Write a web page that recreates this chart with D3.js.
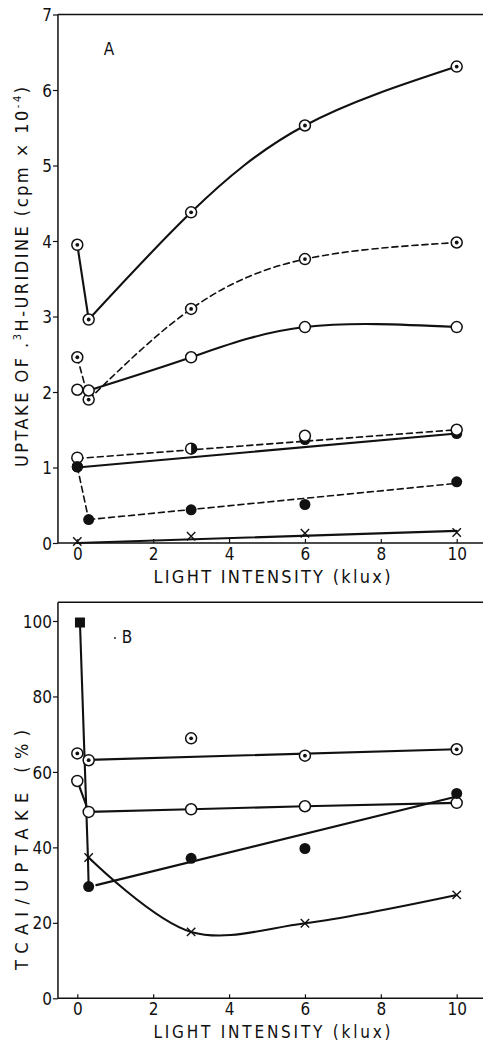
<!DOCTYPE html>
<html><head><meta charset="utf-8">
<script src="https://cdn.jsdelivr.net/npm/d3@7"></script>
<style>
html,body{margin:0;padding:0;background:#fff;}
svg{display:block;}
text{font-family:"Liberation Sans Narrow","DejaVu Sans Condensed","Liberation Sans",Arial,sans-serif;fill:#111;}
</style></head>
<body>
<svg id="chart" width="483" height="1044"></svg>
<script>
// ---------- data ----------
const xTicks = [0, 2, 4, 6, 8, 10];
const yTicksA = [0, 1, 2, 3, 4, 5, 6, 7];
const yTicksB = [0, 20, 40, 60, 80, 100];
const lightX = [0, 0.3, 3, 6, 10];

// Panel A
const a1 = [3.95, 2.96, 4.38, 5.53, 6.31];   // dotted circle, solid
const a2 = [2.46, 1.90, 3.10, 3.76, 3.98];   // dotted circle, dashed
const a3 = [2.03, 2.02, 2.46, 2.86, 2.86];   // open circle, solid
const a4X = [0, 3, 6, 10];
const a4 = [1.13, 1.25, 1.42, 1.50];         // open / half circle, dashed
const a4Fit = [[0, 1.12], [10, 1.50]];
const a5X = [0, 6, 10];
const a5 = [1.01, 1.37, 1.45];               // filled circle, solid
const a5Fit = [[0, 1.00], [10, 1.45]];
const a6 = [1.01, 0.31, 0.44, 0.51, 0.81];   // filled circle, dashed
const a6Fit = [[0.3, 0.31], [10, 0.79]];
const a7X = [0, 3, 6, 10];
const a7 = [0.02, 0.09, 0.13, 0.14];         // cross, solid
const a7Fit = [[0, 0.0], [10, 0.16]];

// Panel B
const b1 = [64.9, 63.1, 68.9, 64.3, 66.0];   // dotted circle
const b1Fit = [[0.3, 63.2], [10, 66.0]];
const b2 = [57.6, 49.4, 50.1, 50.9, 51.8];   // open circle
const b3X = [0.3, 3, 6, 10];
const b3 = [29.6, 37.1, 39.7, 54.3];         // filled circle
const b3Fit = [[0.5, 30.0], [10, 53.5]];
const bSquare = [0.07, 99.6];                // filled square
const bDrop = [[0.07, 99.6], [0.28, 37.3], [0.3, 29.6]];
const b4X = [0.3, 3, 6, 10];
const b4 = [37.3, 17.6, 19.9, 27.4];         // cross

// ---------- drawing ----------
const svg = d3.select("#chart");
const x = d3.scaleLinear().domain([0, 10]).range([77.3, 456.7]);
const yA = d3.scaleLinear().domain([0, 7]).range([543, 14.5]);
const yB = d3.scaleLinear().domain([0, 100]).range([998.3, 621]);
const xLeft = -0.51, xRight = 10.7;

function frame(y, yTop, yTicks, fmt) {
  const g = svg.append("g");
  const ay = d3.axisLeft(y).tickValues(yTicks).tickSize(5).tickPadding(1).tickFormat(fmt);
  const gy = g.append("g").attr("transform", `translate(${x(xLeft)},0)`).call(ay);
  gy.select(".domain").remove();
  gy.selectAll("line").attr("stroke", "#111").attr("stroke-width", 1.2);
  gy.selectAll("text").attr("font-size", 17).attr("dy", "0.36em");
  const ax = d3.axisBottom(x).tickValues(xTicks).tickSize(-4).tickPadding(5);
  const gx = g.append("g").attr("transform", `translate(0,${y(0)})`).call(ax);
  gx.select(".domain").remove();
  gx.selectAll("line").attr("stroke", "#111").attr("stroke-width", 1.2);
  gx.selectAll("text").attr("font-size", 17);
  g.append("line").attr("x1", x(xLeft)).attr("x2", x(xLeft)).attr("y1", y(yTop)).attr("y2", y(0))
    .attr("stroke", "#111").attr("stroke-width", 1.5);
  g.append("line").attr("x1", x(xLeft)).attr("x2", x(xRight)).attr("y1", y(0)).attr("y2", y(0))
    .attr("stroke", "#111").attr("stroke-width", 1.5);
  g.append("line").attr("x1", x(xLeft)).attr("x2", x(xRight)).attr("y1", y(yTop)).attr("y2", y(yTop))
    .attr("stroke", "#111").attr("stroke-width", 1.5);
}
frame(yA, 7, yTicksA, d3.format("d"));
frame(yB, 105, yTicksB, d3.format("d"));

function path(y, pts, curve, dashed) {
  const line = d3.line().x(d => x(d[0])).y(d => y(d[1])).curve(curve || d3.curveLinear);
  svg.append("path").attr("d", line(pts)).attr("fill", "none").attr("stroke", "#111")
    .attr("stroke-width", dashed ? 1.6 : 2.1)
    .attr("stroke-dasharray", dashed ? "6,4" : null)
    .attr("stroke-linejoin", "round").attr("stroke-linecap", "round");
}
const zip = (xs, ys) => xs.map((v, i) => [v, ys[i]]);
const R = 5.5;
function marker(y, type, px, py) {
  const cx = x(px), cy = y(py);
  if (type === "dot" || type === "open" || type === "half") {
    svg.append("circle").attr("cx", cx).attr("cy", cy).attr("r", R)
      .attr("fill", "#fff").attr("stroke", "#111").attr("stroke-width", 1.5);
    if (type === "dot") svg.append("circle").attr("cx", cx).attr("cy", cy).attr("r", 1.9).attr("fill", "#111");
    if (type === "half") svg.append("path")
      .attr("d", d3.arc()({innerRadius: 0, outerRadius: R, startAngle: 0, endAngle: Math.PI}))
      .attr("transform", `translate(${cx},${cy})`).attr("fill", "#111");
  } else if (type === "filled") {
    svg.append("circle").attr("cx", cx).attr("cy", cy).attr("r", R).attr("fill", "#111");
  } else if (type === "cross") {
    const s = 4.2;
    svg.append("path").attr("d", `M${cx - s},${cy - s}L${cx + s},${cy + s}M${cx - s},${cy + s}L${cx + s},${cy - s}`)
      .attr("stroke", "#111").attr("stroke-width", 1.4).attr("fill", "none");
  } else if (type === "square") {
    svg.append("rect").attr("x", cx - 5).attr("y", cy - 5).attr("width", 10).attr("height", 10).attr("fill", "#111");
  }
}

// ----- Panel A lines -----
const A1 = zip(lightX, a1), A2 = zip(lightX, a2), A3 = zip(lightX, a3), A6 = zip(lightX, a6);
path(yA, A1.slice(0, 2));
path(yA, A1.slice(1), d3.curveNatural);
path(yA, A2.slice(0, 2), null, true);
path(yA, A2.slice(1), d3.curveNatural, true);
path(yA, A3.slice(0, 2));
path(yA, A3.slice(1), d3.curveNatural);
path(yA, a5Fit);
path(yA, a4Fit, null, true);
path(yA, A6.slice(0, 2), null, true);
path(yA, a6Fit, null, true);
path(yA, a7Fit);
// ----- Panel A markers -----
A1.forEach(d => marker(yA, "dot", d[0], d[1]));
A2.forEach(d => marker(yA, "dot", d[0], d[1]));
A3.forEach(d => marker(yA, "open", d[0], d[1]));
zip(a5X, a5).forEach(d => marker(yA, "filled", d[0], d[1]));
zip(a4X, a4).forEach((d, i) => marker(yA, i === 1 ? "half" : "open", d[0], d[1]));
marker(yA, "filled", a5X[0], a5[0]);
A6.forEach(d => marker(yA, "filled", d[0], d[1]));
zip(a7X, a7).forEach(d => marker(yA, "cross", d[0], d[1]));

// ----- Panel B lines -----
const B1 = zip(lightX, b1), B2 = zip(lightX, b2);
path(yB, bDrop);
path(yB, b1Fit);
path(yB, B2);
path(yB, b3Fit);
path(yB, zip(b4X, b4), d3.curveCatmullRom.alpha(0.5));
// ----- Panel B markers -----
B1.forEach(d => marker(yB, "dot", d[0], d[1]));
B2.forEach(d => marker(yB, "open", d[0], d[1]));
zip(b3X, b3).forEach(d => marker(yB, "filled", d[0], d[1]));
zip(b4X, b4).forEach(d => marker(yB, "cross", d[0], d[1]));
marker(yB, "square", bSquare[0], bSquare[1]);

// ----- texts -----
svg.append("text").attr("x", 109).attr("y", 55).attr("text-anchor", "middle").attr("font-size", 17).text("A");
svg.append("text").attr("x", 127).attr("y", 643).attr("text-anchor", "middle").attr("font-size", 17).text("B");
svg.append("circle").attr("cx", 115).attr("cy", 638).attr("r", 0.9).attr("fill", "#111");

svg.append("text").attr("x", 272).attr("y", 583).attr("text-anchor", "middle").attr("font-size", 18)
  .attr("textLength", 237).attr("lengthAdjust", "spacing").text("LIGHT INTENSITY (klux)");
svg.append("text").attr("x", 272).attr("y", 1038).attr("text-anchor", "middle").attr("font-size", 17)
  .attr("textLength", 237).attr("lengthAdjust", "spacing").text("LIGHT INTENSITY (klux)");

const ta = svg.append("text").attr("transform", "translate(28,277) rotate(-90)").attr("text-anchor", "middle")
  .attr("font-size", 18).attr("textLength", 380).attr("lengthAdjust", "spacing");
ta.append("tspan").text("UPTAKE OF .");
ta.append("tspan").attr("font-size", 11).attr("dy", -7).text("3");
ta.append("tspan").attr("dy", 7).text("H-URIDINE (cpm × 10");
ta.append("tspan").attr("font-size", 11).attr("dy", -7).text("-4");
ta.append("tspan").attr("dy", 7).text(")");

svg.append("text").attr("transform", "translate(28,850) rotate(-90)").attr("text-anchor", "middle")
  .attr("font-size", 18).attr("textLength", 240).attr("lengthAdjust", "spacing").text("TCAI/UPTAKE (%)");
</script>
</body></html>
